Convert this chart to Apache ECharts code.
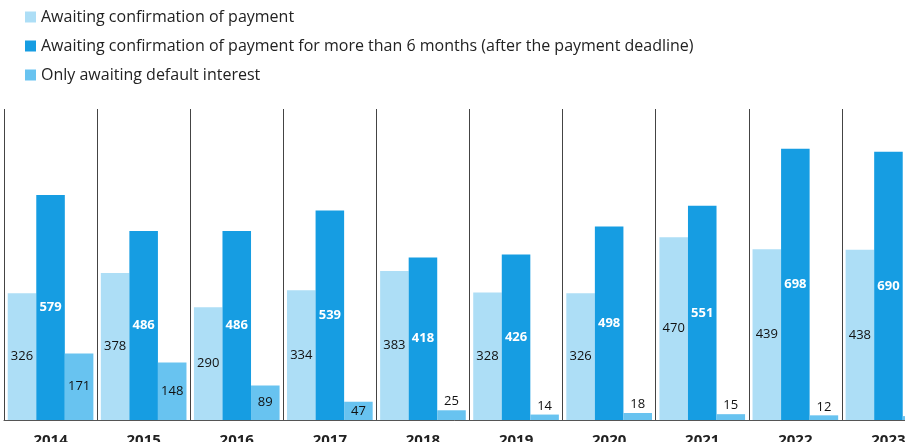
<!DOCTYPE html>
<html>
<head>
<meta charset="utf-8">
<script src="https://cdn.jsdelivr.net/npm/echarts@6/dist/echarts.min.js"></script>
<style>
  html, body { margin: 0; padding: 0; background: #fff; }
  #main { width: 905px; height: 442px; }
</style>
</head>
<body>
<div id="main"></div>
<script>
const years = ["2014", "2015", "2016", "2017", "2018", "2019", "2020", "2021", "2022", "2023"];
const awaiting = [326, 378, 290, 334, 383, 328, 326, 470, 439, 438];
const awaitingSixMonths = [579, 486, 486, 539, 418, 426, 498, 551, 698, 690];
const defaultInterest = [171, 148, 89, 47, 25, 14, 18, 15, 12, 10];

const myChart = echarts.init(document.getElementById("main"));

const FONT = "'Open Sans', 'Noto Sans', sans-serif";

// small bars get their label above the bar
const withLabels = (values) =>
  values.map((v) => (v < 40 ? { value: v, label: { position: "top", distance: 2 } } : v));

const options = {
  animation: false,
  textStyle: { fontFamily: FONT },
  legend: {
    orient: "vertical",
    left: 20,
    top: 4,
    itemWidth: 11,
    itemHeight: 11,
    itemGap: 13,
    icon: "rect",
    textStyle: { fontSize: 16, color: "#222", fontFamily: FONT },
  },
  grid: {
    left: 4,
    width: 931,
    top: 109,
    bottom: 22,
    outerBoundsMode: "none",
    containLabel: false,
  },
  xAxis: {
    type: "category",
    data: years,
    axisLine: { lineStyle: { color: "#555", width: 1 } },
    axisTick: { show: false },
    splitLine: { show: true, interval: 0, lineStyle: { color: "#444", width: 1 } },
    axisLabel: {
      interval: 0,
      margin: 13,
      fontSize: 15,
      fontWeight: "bold",
      color: "#222",
      fontFamily: FONT,
    },
  },
  yAxis: {
    type: "value",
    min: 0,
    max: 800,
    show: false,
    splitLine: { show: false },
  },
  series: [
    {
      name: "Awaiting confirmation of payment",
      type: "bar",
      data: awaiting,
      barGap: "0%",
      barCategoryGap: "8%",
      itemStyle: { color: "#ADDEF6" },
      label: { show: true, position: "inside", color: "#111", fontSize: 13, fontFamily: FONT },
    },
    {
      name: "Awaiting confirmation of payment for more than 6 months (after the payment deadline)",
      type: "bar",
      data: awaitingSixMonths,
      itemStyle: { color: "#169DE2" },
      label: {
        show: true,
        position: "inside",
        color: "#fff",
        fontWeight: "bold",
        fontSize: 13,
        fontFamily: FONT,
      },
    },
    {
      name: "Only awaiting default interest",
      type: "bar",
      data: withLabels(defaultInterest),
      itemStyle: { color: "#68C3F0" },
      label: { show: true, position: "inside", color: "#111", fontSize: 13, fontFamily: FONT },
    },
  ],
};

myChart.setOption(options);
</script>
</body>
</html>
